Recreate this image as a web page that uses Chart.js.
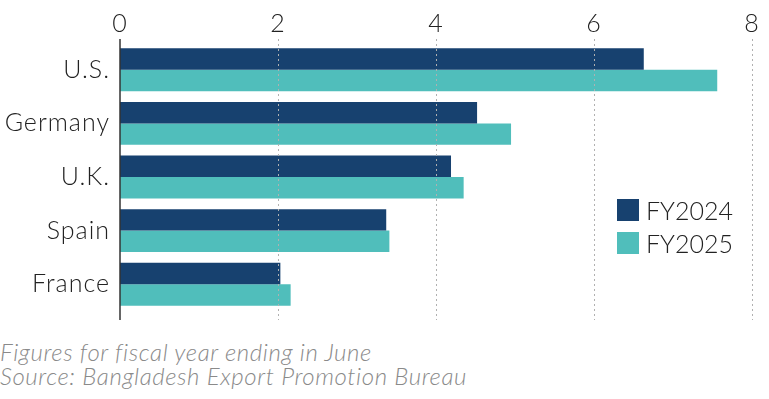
<!DOCTYPE html>
<html>
<head>
<meta charset="utf-8">
<script src="https://cdn.jsdelivr.net/npm/chart.js@4"></script>
<style>
  body { margin: 0; background: #fff; font-family: Lato, sans-serif; }
  #wrap { position: relative; width: 769px; height: 399px; overflow: hidden; }
  #box { position: absolute; left: 0; top: 0; width: 769px; height: 336px; }
  #legend { position: absolute; left: 617px; top: 199px; }
  .item { display: flex; align-items: center; height: 22px; margin-bottom: 11px; font-size: 25px; font-weight: 300; color: #222; }
  .sw { width: 22px; height: 22px; margin-right: 7px; }
  #note { position: absolute; left: 0; top: 340px; font-style: italic; font-weight: 300; font-size: 24px; line-height: 24px; letter-spacing: 0.6px; color: #8a8a8a; }
</style>
</head>
<body>
<div id="wrap">
  <div id="box"><canvas id="grafica"></canvas></div>
  <div id="legend"></div>
  <div id="note">Figures for fiscal year ending in June<br>Source: Bangladesh Export Promotion Bureau</div>
</div>
<script>
const paises = ['U.S.', 'Germany', 'U.K.', 'Spain', 'France'];
const fy2024 = [6.63, 4.52, 4.19, 3.37, 2.03];
const fy2025 = [7.56, 4.95, 4.35, 3.41, 2.16];
const etiquetas = ['FY2024', 'FY2025'];
const colores = ['#17416f', '#50bebb'];

// dotted grid + axis line drawn over the bars, a bit longer than the plot area
const lineas = {
  id: 'lineas',
  beforeDraw(chart) {
    chart.ctx.letterSpacing = '1px';
  },
  afterDatasetsDraw(chart) {
    const ctx = chart.ctx;
    const area = chart.chartArea;
    const x = chart.scales.x;
    const y0 = area.top - 4, y1 = area.bottom + 9;
    ctx.save();
    ctx.strokeStyle = '#b0b0b0';
    ctx.lineWidth = 1;
    ctx.setLineDash([2, 3]);
    x.ticks.forEach(t => {
      if (t.value === 0) return;
      const px = Math.round(x.getPixelForValue(t.value)) + 0.5;
      ctx.beginPath(); ctx.moveTo(px, y0); ctx.lineTo(px, y1); ctx.stroke();
    });
    ctx.setLineDash([]);
    ctx.strokeStyle = '#333';
    ctx.lineWidth = 1.5;
    const p0 = x.getPixelForValue(0);
    ctx.beginPath(); ctx.moveTo(p0, y0); ctx.lineTo(p0, y1); ctx.stroke();
    ctx.restore();
  }
};

const ctx = document.getElementById('grafica').getContext('2d');
new Chart(ctx, {
  type: 'bar',
  data: {
    labels: paises,
    datasets: [
      { label: etiquetas[0], data: fy2024, backgroundColor: colores[0] },
      { label: etiquetas[1], data: fy2025, backgroundColor: colores[1] }
    ]
  },
  options: {
    indexAxis: 'y',
    responsive: true,
    maintainAspectRatio: false,
    animation: false,
    layout: { padding: { left: 0, right: 17, top: 0, bottom: 19 } },
    datasets: { bar: { categoryPercentage: 0.8, barPercentage: 1 } },
    scales: {
      x: {
        position: 'top',
        min: 0, max: 8,
        ticks: { stepSize: 2, color: '#222', padding: 4, font: { family: 'Lato', size: 25, weight: '300' } },
        grid: { display: false, drawTicks: false },
        border: { display: false },
        afterFit(s) { s.height = 43; }
      },
      y: {
        ticks: { color: '#222', padding: 10, font: { family: 'Lato', size: 25, weight: '300' } },
        grid: { display: false, drawTicks: false },
        border: { display: false },
        afterFit(s) { s.width = 120; }
      }
    },
    plugins: {
      legend: { display: false },
      tooltip: { enabled: false }
    }
  },
  plugins: [lineas]
});

const ley = document.getElementById('legend');
etiquetas.forEach((e, i) => {
  ley.innerHTML += '<div class="item"><span class="sw" style="background:' + colores[i] + '"></span>' + e + '</div>';
});
</script>
</body>
</html>
